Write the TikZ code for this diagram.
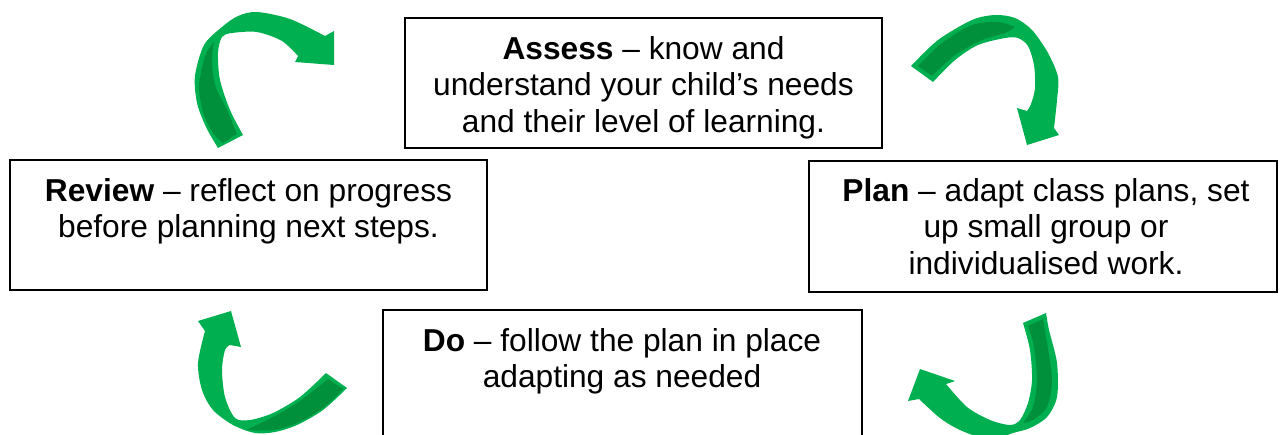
\documentclass[tikz,border=0pt]{standalone}
\usepackage{fontspec}
\setmainfont{Liberation Sans}
\definecolor{grn}{HTML}{00B050}
\definecolor{dgrn}{HTML}{00903C}
\begin{document}
\begin{tikzpicture}[x=1pt,y=-1pt,
  box/.style={draw=black, line width=1.3pt, fill=white, inner sep=0pt},
  txt/.style={font=\fontsize{31.7}{36.5}\selectfont, align=center, anchor=north, inner sep=0pt},
  arrowbody/.style={fill=grn},
  band/.style={fill=dgrn}]
\useasboundingbox (0,0) rectangle (1284,434);
\clip (0,0) rectangle (1284,434);
\fill[white] (0,0) rectangle (1284,434);

% boxes
\node[box, minimum width=477pt, minimum height=130pt] (assess) at (643.5,83) {};
\node[box, minimum width=477pt, minimum height=130pt] (review) at (248.5,225) {};
\node[box, minimum width=468pt, minimum height=131pt] (plan) at (1043,226.5) {};
\node[box, minimum width=479pt, minimum height=150pt] (do) at (622.5,385) {};

% texts
\node[txt] (assesst) at (643.5,33.5) {\strut\textbf{Assess} – know and\\understand your child’s needs\\and their level of learning.};
\node[txt] (reviewt) at (248.5,175.5) {\strut\textbf{Review} – reflect on progress\\before planning next steps.};
\node[txt] (plant) at (1046,175.5) {\strut\textbf{Plan} – adapt class plans, set\\up small group or\\individualised work.};
\node[txt] (dot) at (622,325.5) {\strut\textbf{Do} – follow the plan in place\\adapting as needed};

% top-left arrow
\fill[arrowbody] (218,148) -- (243,135)
  -- plot[smooth] coordinates {(243,135) (230,110) (220,80) (218,53) (222,37) (232,33) (257,32) (282,41) (298,56)}
  -- (295,62) -- (334,65) -- (334,31) -- (325,36)
  -- plot[smooth] coordinates {(325,36) (290,19) (257,12) (238,16) (222,27) (204,45) (195,76) (197,103) (206,127) (218,148)} -- cycle;
\fill[band] (223,143) -- (237,134)
  -- plot[smooth] coordinates {(237,134) (227,110) (215,85) (212,60) (214,42)}
  -- plot[smooth] coordinates {(214,42) (205,56) (199,86) (203,112) (213,133) (223,143)} -- cycle;

% top-right arrow
\fill[arrowbody] (911,66) -- (933,82)
  -- plot[smooth] coordinates {(933,82) (955,60) (978,45) (1005,38) (1018,38) (1028,46) (1034,65) (1035,88) (1031,104) (1027,111)}
  -- (1017,108) -- (1027,145) -- (1059,135) -- (1054,128)
  -- plot[smooth] coordinates {(1054,128) (1057,100) (1058,77) (1048,53) (1032,30) (1015,18) (995,15) (972,20) (938,40) (911,66)} -- cycle;
\fill[band] (918,66) -- (932,76)
  -- plot[smooth] coordinates {(932,76) (955,55) (982,40) (1005,33) (1015,27)}
  -- plot[smooth] coordinates {(1015,27) (998,22) (972,25) (942,43) (918,66)} -- cycle;

% bottom-left arrow
\fill[arrowbody] (205,331)
  -- plot[smooth] coordinates {(205,331) (198,363) (202,390) (213,410) (233,425) (255,433) (275,432) (297,425) (323,410) (347,388)}
  -- (326,373)
  -- plot[smooth] coordinates {(326,373) (300,397) (273,413) (250,420) (235,418) (225,397) (222,370) (225,350) (230,345)}
  -- (241,347) -- (231,311) -- (198,321) -- cycle;
\fill[band] (328,379) -- (343,389)
  -- plot[smooth] coordinates {(343,389) (323,408) (297,423) (273,430) (246,430)}
  -- plot[smooth] coordinates {(246,430) (273,417) (300,401) (328,379)} -- cycle;

% bottom-right arrow
\fill[arrowbody] (946,384)
  -- plot[smooth] coordinates {(946,384) (967,407) (990,420) (1010,425) (1020,420) (1028,403) (1032,380) (1030,350) (1023,323)}
  -- (1046,313)
  -- plot[smooth] coordinates {(1046,313) (1049,330) (1057,363) (1057,397) (1047,417) (1030,428) (1013,433) (990,440) (960,430) (940,418) (919,399)}
  -- (908,401) -- (920,369) -- (955,381) -- cycle;
\fill[band] (1028,326) -- (1043,319)
  -- plot[smooth] coordinates {(1043,319) (1047,343) (1052,380) (1047,407) (1033,420) (1023,423)}
  -- plot[smooth] coordinates {(1023,423) (1033,407) (1037,380) (1034,347) (1028,326)} -- cycle;
\end{tikzpicture}
\end{document}
